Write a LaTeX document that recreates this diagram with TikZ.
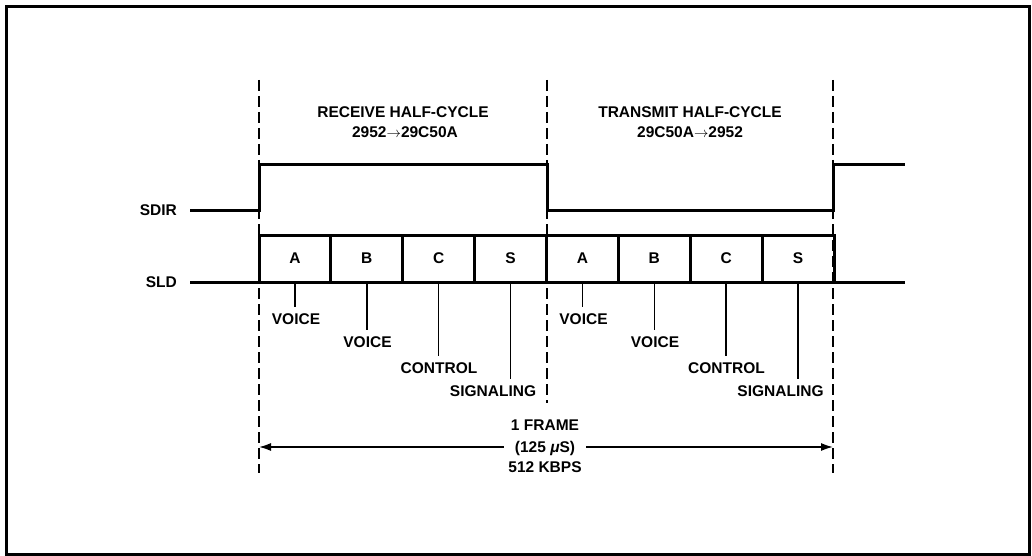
\documentclass[tikz,border=0pt]{standalone}
\usepackage{fontspec}
\setmainfont{Liberation Sans}
\usetikzlibrary{arrows.meta}
\begin{document}
\begin{tikzpicture}[x=1pt,y=-1pt,
  txt/.style={font=\fontsize{15.5}{18}\selectfont\bfseries, inner sep=0pt, text height=11.2pt, text depth=0pt},
  sig/.style={line width=3pt, line join=miter, line cap=butt},
  gridline/.style={line width=2pt, dash pattern=on 11pt off 5pt},
  tickline/.style={line width=1.6pt, shorten >=6pt},
  slot/.style={draw, line width=3pt, minimum width=71.875pt, minimum height=47pt, inner sep=0pt,
               font=\fontsize{15.5}{18}\selectfont\bfseries},
  dimline/.style={line width=1.6pt},
]
\useasboundingbox (0,0) rectangle (1032,556);
\draw[line width=3pt] (6,7) rectangle (1029.5,554.5);

% dashed phase boundaries
\coordinate (d1t) at (259,80);  \coordinate (d1b) at (259,473);
\coordinate (d2t) at (547,80);  \coordinate (d2b) at (547,403);
\coordinate (d3t) at (833,80);  \coordinate (d3b) at (833,473);
\draw[gridline] (d1t) -- (d1b);
\draw[gridline] (d2t) -- (d2b);
\draw[gridline] (d3t) -- (d3b);

% headings
\node[txt] (rx1) at (403,112) {RECEIVE HALF-CYCLE};
\node[txt] (rx2) at (405,132) {2952$\rightarrow$29C50A};
\node[txt] (tx1) at (690,112) {TRANSMIT HALF-CYCLE};
\node[txt] (tx2) at (690,132) {29C50A$\rightarrow$2952};

% signal names
\node[txt, anchor=east] (sdir) at (177,210) {SDIR};
\node[txt, anchor=east] (sld)  at (177,282) {SLD};

% SDIR waveform
\draw[sig] (sdir.east) ++(13,0) coordinate (s0) -- (259,210) -- (259,165) -- (547,165) -- (547,210)
  -- (833,210) -- (833,165) -- (905,165) coordinate (s1);

% SLD slots
\foreach \i/\t in {1/A,2/B,3/C,4/S,5/A,6/B,7/C,8/S}
  \node[slot] (slot\i) at ({259+71.875*(\i-0.5)},258.5) {\t};
\draw[sig] (sld.east) ++(13,0) coordinate (l0) -- (905,282) coordinate (l1);

% slot labels
\node[txt] (lab1) at (296,319) {VOICE};
\node[txt] (lab2) at (367.5,342) {VOICE};
\node[txt] (lab3) at (439,368) {CONTROL};
\node[txt] (lab4) at (493,391) {SIGNALING};
\node[txt] (lab5) at (583.5,319) {VOICE};
\node[txt] (lab6) at (655,342) {VOICE};
\node[txt] (lab7) at (726.5,368) {CONTROL};
\node[txt] (lab8) at (780.5,391) {SIGNALING};
\foreach \i in {1,...,8}
  \draw[tickline] (slot\i.south) -- (slot\i.south |- lab\i.north);

% frame dimension
\node[txt] (f1) at (545,425) {1 FRAME};
\node[txt] (f2) at (545,447) {(125 {\itshape μ}S)};
\node[txt] (f3) at (545,467) {512 KBPS};
\coordinate (al) at (259,447);
\coordinate (ar) at (833,447);
\draw[dimline, {Latex[length=12pt,width=8pt]}-] (al) -- ([xshift=-11pt]f2.west);
\draw[dimline, -{Latex[length=12pt,width=8pt]}] ([xshift=11pt]f2.east) -- (ar);
\end{tikzpicture}
\end{document}
